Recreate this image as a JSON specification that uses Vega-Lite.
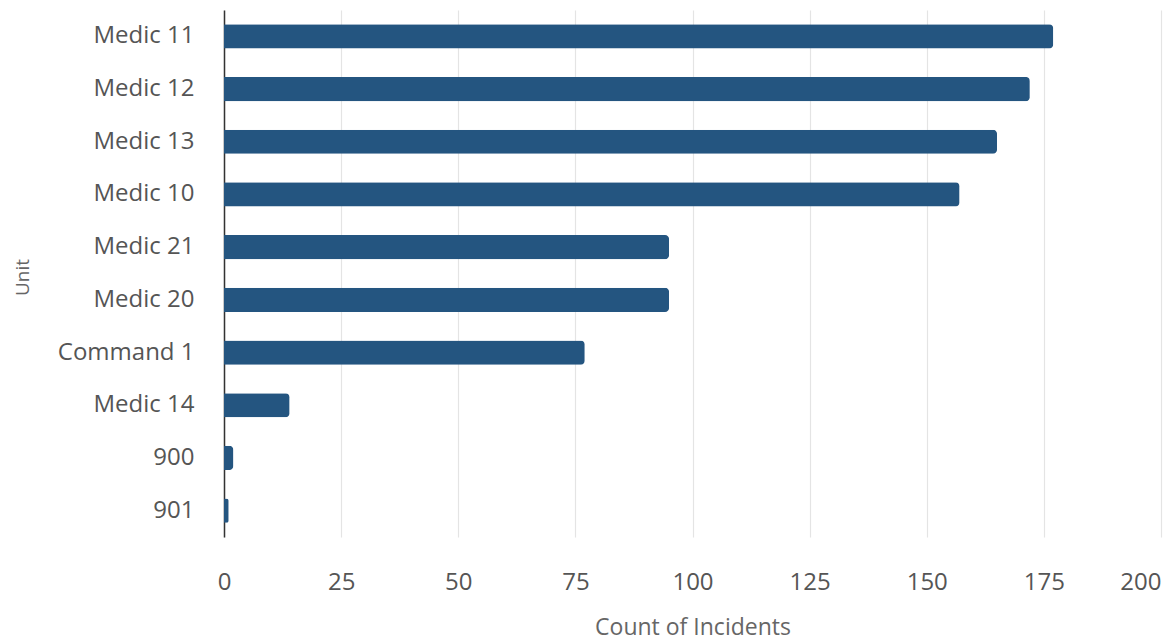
{
  "$schema": "https://vega.github.io/schema/vega-lite/v6.json",
  "width": 937,
  "height": 527,
  "autosize": {"type": "none"},
  "padding": {"left": 224, "top": 10, "right": 4, "bottom": 104},
  "background": "white",
  "data": {
    "values": [
      {"Unit": "Medic 11", "Count": 177},
      {"Unit": "Medic 12", "Count": 172},
      {"Unit": "Medic 13", "Count": 165},
      {"Unit": "Medic 10", "Count": 157},
      {"Unit": "Medic 21", "Count": 95},
      {"Unit": "Medic 20", "Count": 95},
      {"Unit": "Command 1", "Count": 77},
      {"Unit": "Medic 14", "Count": 14},
      {"Unit": "900", "Count": 2},
      {"Unit": "901", "Count": 1}
    ]
  },
  "mark": {"type": "bar", "color": "#245580", "cornerRadiusEnd": 4},
  "encoding": {
    "y": {
      "field": "Unit",
      "type": "nominal",
      "sort": null,
      "scale": {"paddingInner": 0.54, "paddingOuter": 0.27},
      "axis": {
        "title": "Unit",
        "titleFont": "Open Sans",
        "titleFontSize": 19,
        "titleFontWeight": "normal",
        "titleColor": "#666666",
        "titleAngle": -90,
        "titleX": -202,
        "titleY": 267,
        "titleAlign": "center",
        "titleBaseline": "middle",
        "labelFont": "Open Sans",
        "labelFontSize": 24,
        "labelColor": "#555555",
        "labelPadding": 30,
        "ticks": false,
        "domainColor": "#333333",
        "domainWidth": 1.5,
        "grid": false
      }
    },
    "x": {
      "field": "Count",
      "type": "quantitative",
      "scale": {"domain": [0, 200], "nice": false},
      "axis": {
        "title": "Count of Incidents",
        "titleFont": "Open Sans",
        "titleFontSize": 23,
        "titleFontWeight": "normal",
        "titleColor": "#666666",
        "titleY": 90,
        "titleBaseline": "middle",
        "values": [0, 25, 50, 75, 100, 125, 150, 175, 200],
        "labelFont": "Open Sans",
        "labelFontSize": 24,
        "labelColor": "#555555",
        "labelPadding": 33,
        "labelAlign": {"condition": {"test": "datum.value == 200", "value": "right"}, "value": "center"},
        "ticks": false,
        "domain": false,
        "grid": true,
        "gridColor": "#e4e4e4",
        "gridWidth": 1.2
      }
    }
  },
  "config": {"view": {"stroke": null}}
}
